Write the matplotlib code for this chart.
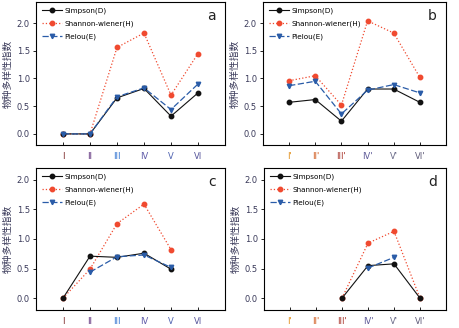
import matplotlib
matplotlib.use("Agg")
import matplotlib.pyplot as plt
import numpy as np

plt.rcParams['font.family'] = ['DejaVu Sans', 'Noto Sans CJK SC']

labels_ac = ['I', 'II', 'III', 'IV', 'V', 'VI']
labels_bd = ["I'", "II'", "III'", "IV'", "V'", "VI'"]
colors_ac = ['#7a2626', '#5a2a78', '#2f72d0', '#5e5aa8', '#4f62b0', '#55549a']
colors_bd = ['#e08a10', '#d05a1c', '#a8342a', '#5e5a98', '#6a6a88', '#5e5a78']

# panel a
a_simpson = [0.0, 0.0, 0.65, 0.82, 0.32, 0.74]
a_shannon = [0.0, 0.0, 1.56, 1.82, 0.70, 1.45]
a_pielou = [0.0, 0.0, 0.67, 0.83, 0.44, 0.90]
# panel b
b_simpson = [0.57, 0.62, 0.23, 0.81, 0.81, 0.57]
b_shannon = [0.96, 1.05, 0.52, 2.04, 1.82, 1.02]
b_pielou = [0.87, 0.95, 0.36, 0.79, 0.89, 0.74]
# panel c (missing = None)
c_simpson = [0.0, 0.71, 0.69, 0.76, 0.49, None]
c_shannon = [0.0, 0.49, 1.26, 1.59, 0.82, None]
c_pielou = [None, 0.44, 0.70, 0.73, 0.52, None]
# panel d
d_simpson = [None, None, 0.0, 0.55, 0.58, 0.0]
d_shannon = [None, None, 0.0, 0.93, 1.13, 0.0]
d_pielou = [None, None, None, 0.51, 0.69, None]

W, H = 460, 328
fig = plt.figure(figsize=(W / 100, H / 100), dpi=100)

def rect(l, r, t, b):
    return [l / W, 1 - b / H, (r - l) / W, (b - t) / H]

panels = [
    (rect(36, 225, 2, 145), a_simpson, a_shannon, a_pielou, labels_ac, colors_ac, 'a', (-0.2, 2.38)),
    (rect(263, 446, 2, 145), b_simpson, b_shannon, b_pielou, labels_bd, colors_bd, 'b', (-0.2, 2.38)),
    (rect(36, 225, 168, 310), c_simpson, c_shannon, c_pielou, labels_ac, colors_ac, 'c', (-0.2, 2.2)),
    (rect(264, 446, 168, 310), d_simpson, d_shannon, d_pielou, labels_bd, colors_bd, 'd', (-0.2, 2.2)),
]

def arr(v):
    return np.array([np.nan if x is None else x for x in v], dtype=float)

for pos, simp, shan, piel, labs, cols, tag, ylim in panels:
    ax = fig.add_axes(pos)
    x = np.arange(1, 7)
    ax.plot(x, arr(shan), color='#f04a30', lw=0.9, ls=':', marker='o', ms=3.2,
            label='Shannon-wiener(H)', zorder=2)
    ax.plot(x, arr(piel), color='#2a5ca8', lw=0.9, ls=(0, (5, 2)), marker='v', ms=3.2,
            label='Pielou(E)', zorder=3)
    ax.plot(x, arr(simp), color='#111111', lw=0.8, marker='o', ms=3.2, label='Simpson(D)',
            zorder=2.5)
    h, l = ax.get_legend_handles_labels()
    order = [2, 0, 1]
    ax.set_xlim(0, 7)
    ax.set_ylim(*ylim)
    ax.set_xticks(x)
    ax.set_xticklabels(labs, fontsize=6)
    for t, c in zip(ax.get_xticklabels(), cols):
        t.set_color(c)
    ax.set_yticks([0.0, 0.5, 1.0, 1.5, 2.0])
    ax.set_yticklabels(['0.0', '0.5', '1.0', '1.5', '2.0'], fontsize=6, color='#3a3a5a')
    ax.tick_params(axis='x', direction='in', length=2.5, width=0.6, pad=5)
    ax.tick_params(axis='y', direction='out', length=2.5, width=0.6, pad=2)
    for s in ax.spines.values():
        s.set_linewidth(0.8)
    ax.set_ylabel('物种多样性指数', fontsize=7, color='#3a3a5a',
                  family=['Noto Sans CJK SC', 'DejaVu Sans'], labelpad=3)
    ax.legend([h[i] for i in order], [l[i] for i in order], loc='upper left',
              fontsize=5.2, frameon=False, handlelength=2.8,
              handletextpad=0.3, labelspacing=0.85, borderaxespad=0.6,
              borderpad=0.2)
    ax.text(0.95, 0.95, tag, transform=ax.transAxes, ha='right', va='top', fontsize=10,
            color='#222222')

fig.savefig('out.png', dpi=100)
